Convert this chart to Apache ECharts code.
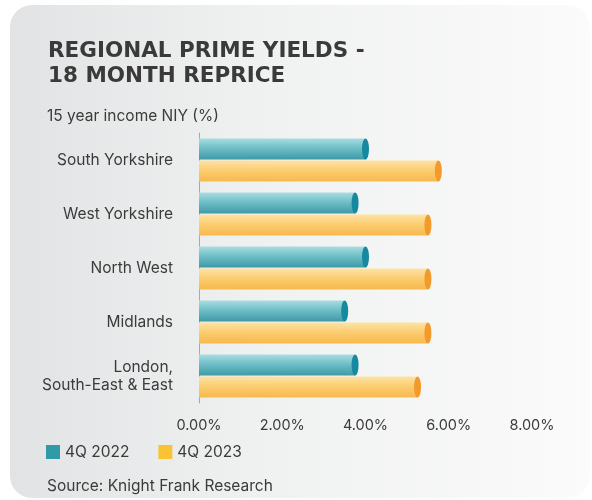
<!DOCTYPE html>
<html>
<head>
<meta charset="utf-8">
<script src="https://cdn.jsdelivr.net/npm/echarts@6/dist/echarts.min.js"></script>
<style>
	html, body { margin: 0; padding: 0; background: #ffffff; }
	.card {
		position: absolute;
		left: 10px; top: 5px; width: 580px; height: 493px;
		border-radius: 22px;
		background: linear-gradient(90deg, #e2e3e4 0%, #f0f1f1 45%, #fbfbfb 100%);
	}
	#chart { position: absolute; left: 0; top: 0; width: 592px; height: 500px; }
</style>
</head>
<body>
<div class="card"></div>
<div id="chart"></div>
<script>
// 15 year income NIY (%)
const regions = ["South Yorkshire", "West Yorkshire", "North West", "Midlands", "London,\nSouth-East & East"]
const yield2022 = [4.0, 3.75, 4.0, 3.5, 3.75]
const yield2023 = [5.75, 5.5, 5.5, 5.5, 5.25]
const seriesNames = ["4Q 2022", "4Q 2023"]

const font = "Inter, 'Open Sans', sans-serif"
const textColor = "#3b3b3b"

const tealFill = new echarts.graphic.LinearGradient(0, 0, 0, 1, [
	{ offset: 0, color: "#a9dde2" },
	{ offset: 0.45, color: "#6fbfc8" },
	{ offset: 1, color: "#3e9aa6" }
])
const yellowFill = new echarts.graphic.LinearGradient(0, 0, 0, 1, [
	{ offset: 0, color: "#fde3a6" },
	{ offset: 0.45, color: "#fccd72" },
	{ offset: 1, color: "#f7b94c" }
])

const chart = echarts.init(document.getElementById("chart"))
chart.setOption({
	animation: false,
	textStyle: { fontFamily: font },
	title: [
		{
			text: "REGIONAL PRIME YIELDS -\n18 MONTH REPRICE",
			left: 43,
			top: 34,
			textStyle: { fontSize: 21.5, fontWeight: "bold", color: "#3a3a3a", lineHeight: 25, fontFamily: "'DejaVu Sans', sans-serif" }
		},
		{
			text: "15 year income NIY (%)",
			left: 42,
			top: 103,
			textStyle: { fontSize: 15.5, fontWeight: "normal", color: textColor, fontFamily: font }
		},
		{
			text: "Source: Knight Frank Research",
			left: 42,
			top: 473,
			textStyle: { fontSize: 15.5, fontWeight: "normal", color: textColor, fontFamily: font }
		}
	],
	legend: {
		left: 41,
		top: 439,
		icon: "rect",
		itemWidth: 14,
		itemHeight: 14,
		itemGap: 29,
		textStyle: { fontSize: 15.5, color: textColor, fontFamily: font },
		data: [
			{ name: seriesNames[0], itemStyle: { color: "#2f9aa8" } },
			{ name: seriesNames[1], itemStyle: { color: "#fbc333" } }
		]
	},
	grid: { left: 199, right: 60, top: 133, height: 270, containLabel: false },
	xAxis: {
		type: "value",
		min: 0,
		max: 8,
		interval: 2,
		axisLine: { show: false },
		axisTick: { show: false },
		splitLine: { show: false },
		axisLabel: {
			margin: 15,
			fontSize: 14.5,
			color: textColor,
			formatter: v => v.toFixed(2) + "%"
		}
	},
	yAxis: {
		type: "category",
		inverse: true,
		data: regions,
		axisLine: { show: true, lineStyle: { color: "#a9a9a9", width: 1 } },
		axisTick: { show: false },
		axisLabel: { margin: 26, fontSize: 15.5, color: textColor, lineHeight: 18, align: "right" }
	},
	series: [
		{
			name: seriesNames[0],
			type: "bar",
			data: yield2022,
			barWidth: 21,
			barGap: "5%",
			itemStyle: { color: tealFill }
		},
		{
			name: seriesNames[1],
			type: "bar",
			data: yield2023,
			barWidth: 21,
			barGap: "5%",
			itemStyle: { color: yellowFill }
		},
		// end caps that give the bars their cylinder look
		{
			name: seriesNames[0],
			type: "pictorialBar",
			data: yield2022,
			symbol: "circle",
			symbolSize: [7, 21],
			symbolPosition: "end",
			symbolOffset: ["50%", 0],
			barWidth: 21,
			barGap: "5%",
			itemStyle: { color: "#1689a0" },
			z: 3
		},
		{
			name: seriesNames[1],
			type: "pictorialBar",
			data: yield2023,
			symbol: "circle",
			symbolSize: [7, 21],
			symbolPosition: "end",
			symbolOffset: ["50%", 0],
			barWidth: 21,
			barGap: "5%",
			itemStyle: { color: "#f29b2c" },
			z: 3
		}
	]
})
</script>
</body>
</html>
